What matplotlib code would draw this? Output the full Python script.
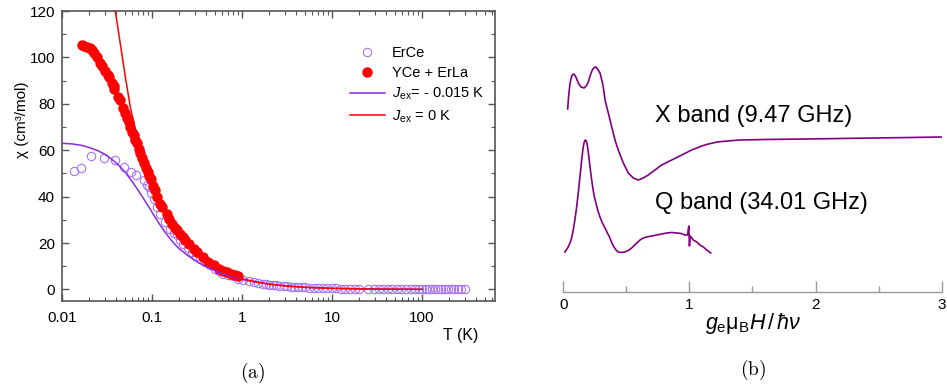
import matplotlib
matplotlib.use("Agg")
import matplotlib.pyplot as plt
from matplotlib.ticker import LogLocator, FixedLocator, FixedFormatter, MultipleLocator, NullFormatter

plt.rcParams['font.family'] = ['Liberation Sans', 'DejaVu Sans']
plt.rcParams['mathtext.fontset'] = 'custom'
plt.rcParams['mathtext.rm'] = 'Liberation Sans'
plt.rcParams['mathtext.it'] = 'Liberation Sans:italic'
plt.rcParams['mathtext.bf'] = 'Liberation Sans:bold'

# ---------------- (a) susceptibility vs temperature ----------------
erce_T = [0.0135, 0.0163, 0.021, 0.0295, 0.039, 0.0493, 0.0584, 0.0668, 0.0807, 0.0882,
          0.0916, 0.0973, 0.104, 0.113, 0.124, 0.14, 0.159, 0.175, 0.189, 0.205,
          0.224, 0.25, 0.278, 0.31, 0.344, 0.39, 0.445, 0.5, 0.55, 0.621,
          0.7, 0.8, 0.9, 1.04, 1.2, 1.35, 1.5, 1.7, 1.85, 2.0,
          2.2, 2.4, 2.6, 2.9, 3.2, 3.5, 3.8, 4.2, 4.6, 5.0,
          5.6, 6.3, 7.0, 7.9, 8.9, 10, 11.2, 12.6, 14, 16,
          18, 20, 25, 29, 33, 37, 42, 47, 53, 59,
          67, 75, 84, 94, 100, 110, 120, 130, 140, 150,
          165, 180, 195, 210, 230, 250, 270, 300]
erce_chi = [51.0, 52.4, 57.5, 56.5, 55.7, 52.8, 50.7, 49.2, 47.1, 45.2,
            44.2, 41.6, 39.0, 35.6, 32.7, 29.1, 26.2, 24.5, 23.3, 21.5,
            19.7, 17.8, 16.1, 14.6, 13.3, 11.8, 10.4, 9.0, 8.0, 6.8,
            6.2, 5.6, 4.6, 3.9, 3.5, 3.1, 2.8, 2.5, 2.3, 2.1,
            1.9, 1.8, 1.6, 1.5, 1.3, 1.2, 1.1, 1.0, 0.95, 0.9,
            0.8, 0.7, 0.62, 0.55, 0.5, 0.45, 0.4, 0.36, 0.32, 0.28,
            0.25, 0.22, 0.18, 0.15, 0.13, 0.12, 0.1, 0.09, 0.08, 0.07,
            0.06, 0.055, 0.05, 0.045, 0.04, 0.04, 0.035, 0.03, 0.03, 0.03,
            0.025, 0.025, 0.02, 0.02, 0.02, 0.02, 0.015, 0.015]

sum_T = [0.0167, 0.0177, 0.019, 0.0203, 0.0215, 0.0224, 0.0245, 0.0266, 0.0278, 0.03,
         0.0321, 0.033, 0.0355, 0.0375, 0.0381, 0.0415, 0.0437, 0.0476, 0.05, 0.0528,
         0.055, 0.0574, 0.06, 0.0625, 0.065, 0.0681, 0.071, 0.074, 0.078, 0.082,
         0.086, 0.0894, 0.093, 0.0974, 0.103, 0.1088, 0.115, 0.1236, 0.13, 0.1468,
         0.155, 0.1665, 0.18, 0.19, 0.2068, 0.22, 0.2339, 0.26, 0.2897, 0.32,
         0.3716, 0.42, 0.4838, 0.55, 0.62, 0.683, 0.75, 0.83, 0.9]
sum_chi = [105.4, 105.1, 104.7, 104.0, 103.0, 102.0, 100.0, 97.5, 96.3, 94.0,
           92.4, 91.4, 89.0, 87.7, 86.3, 83.1, 81.6, 78.1, 76.0, 73.7,
           72.0, 70.1, 68.0, 66.5, 64.5, 62.9, 60.5, 58.6, 56.5, 54.3,
           52.5, 50.7, 49.0, 47.4, 44.5, 42.8, 40.0, 37.0, 35.5, 32.7,
           30.5, 28.4, 26.5, 25.5, 24.1, 22.5, 21.2, 19.5, 17.6, 16.0,
           14.0, 12.0, 10.4, 9.0, 8.0, 7.5, 6.8, 6.0, 5.6]

fit_T = [0.01, 0.013, 0.016, 0.02, 0.025, 0.03, 0.035, 0.04, 0.045, 0.05,
         0.06, 0.07, 0.08, 0.09, 0.1, 0.12, 0.14, 0.16, 0.18, 0.2,
         0.25, 0.3, 0.35, 0.4, 0.5, 0.6, 0.7, 0.8, 1.0, 1.3,
         1.6, 2.0, 3.0, 5.0, 7.0, 10, 20, 50, 100]
fit_chi = [63.0, 62.7, 62.2, 61.2, 59.8, 58.2, 56.4, 54.5, 52.6, 50.6,
           46.6, 42.8, 39.3, 36.2, 33.3, 28.4, 24.6, 21.7, 19.4, 17.6,
           14.6, 12.5, 11.0, 9.8, 8.1, 6.9, 6.0, 5.3, 4.3, 3.4,
           2.8, 2.3, 1.5, 0.9, 0.65, 0.46, 0.23, 0.09, 0.046]

free_T = [0.0391, 0.0444, 0.0505, 0.0574, 0.0653, 0.074, 0.085, 0.1, 0.12, 0.15,
          0.2, 0.25, 0.3, 0.4, 0.5, 0.7, 1.0, 1.5, 2, 3,
          5, 10, 20, 50, 100]
free_chi = [120.0, 106.0, 91.7, 78.7, 68.7, 60.0, 52.5, 44.8, 37.5, 30.2,
            22.8, 18.3, 15.3, 11.5, 9.2, 6.6, 4.6, 3.1, 2.3, 1.55,
            0.93, 0.47, 0.23, 0.09, 0.047]

x_ticks = [0.01, 0.1, 1, 10, 100]
x_ticklabels = ['0.01', '0.1', '1', '10', '100']
y_ticks = [0, 20, 40, 60, 80, 100, 120]

# ---------------- (b) EPR spectra ----------------
xband_x = [0.035, 0.040, 0.045, 0.052, 0.059, 0.070, 0.085, 0.100, 0.119, 0.140,
           0.164, 0.182, 0.198, 0.215, 0.230, 0.245, 0.257, 0.272, 0.291, 0.305,
           0.317, 0.331, 0.357, 0.384, 0.410, 0.436, 0.476, 0.515, 0.555, 0.595,
           0.634, 0.674, 0.727, 0.780, 0.860, 0.939, 1.018, 1.098, 1.15, 1.22,
           1.30, 1.40, 1.60, 1.93, 2.20, 2.46, 2.75, 3.0]
xband_y = [18.3, 19.2, 19.9, 20.7, 21.2, 21.7, 21.8, 21.5, 20.9, 20.5,
           20.4, 20.6, 21.0, 21.7, 22.2, 22.45, 22.5, 22.3, 21.9, 21.2,
           20.5, 19.2, 17.9, 16.5, 15.2, 14.2, 12.9, 11.9, 11.4, 11.2,
           11.4, 11.7, 12.2, 12.7, 13.2, 13.7, 14.2, 14.6, 14.8, 15.0,
           15.1, 15.2, 15.25, 15.3, 15.35, 15.4, 15.45, 15.5]

qband_x = [0.013, 0.035, 0.053, 0.066, 0.079, 0.092, 0.106, 0.117, 0.127, 0.137,
           0.146, 0.155, 0.164, 0.171, 0.177, 0.185, 0.193, 0.202, 0.212, 0.222,
           0.233, 0.245, 0.259, 0.275, 0.291, 0.31, 0.331, 0.350, 0.370, 0.385,
           0.402, 0.418, 0.436, 0.46, 0.489, 0.515, 0.542, 0.575, 0.608, 0.635,
           0.661, 0.700, 0.741, 0.780, 0.820, 0.860, 0.899, 0.935, 0.965, 0.985,
           0.995, 1.0, 1.007, 1.031, 1.058, 1.084, 1.110, 1.137, 1.169]
qband_y = [4.0, 4.4, 4.9, 5.4, 6.2, 7.2, 8.5, 9.7, 10.9, 12.1,
           13.2, 14.2, 14.9, 15.15, 15.2, 15.0, 14.5, 13.6, 12.5, 11.5,
           10.5, 9.6, 8.9, 8.1, 7.5, 6.9, 6.4, 5.9, 5.4, 4.9,
           4.5, 4.2, 4.0, 3.95, 4.0, 4.15, 4.4, 4.8, 5.2, 5.4,
           5.5, 5.6, 5.7, 5.8, 5.9, 5.95, 5.9, 5.85, 5.7, 5.7,
           6.6, 4.6, 5.6, 5.2, 5.0, 4.7, 4.5, 4.2, 3.9]

fig = plt.figure(figsize=(9.47, 3.92), dpi=100)

spine_col = '#555555'
purple_pts = '#a874f2'
purple_line = '#8a2be2'
red = '#ff0000'

ax = fig.add_axes([0.0655, 0.2321, 0.4572, 0.7398])
ax.plot(erce_T, erce_chi, 'o', ms=6.0, mfc='none', mec=purple_pts, mew=0.8,
        label='ErCe', zorder=2)
ax.plot(sum_T, sum_chi, 'o', ms=6.5, color=red, mec=red, label='YCe + ErLa', zorder=3)
ax.plot(fit_T, fit_chi, '-', color=purple_line, lw=1.1,
        label=r'$J_{\rm ex}$= - 0.015 K', zorder=4)
ax.plot(free_T, free_chi, '-', color=red, lw=1.1,
        label=r'$J_{\rm ex}$ = 0 K', zorder=4)

ax.set_xscale('log')
ax.set_xlim(0.01, 650)
ax.set_ylim(-5, 120)
ax.xaxis.set_major_locator(FixedLocator(x_ticks))
ax.xaxis.set_major_formatter(FixedFormatter(x_ticklabels))
ax.xaxis.set_minor_locator(LogLocator(base=10, subs=[2, 3, 4, 5, 6, 7, 8, 9], numticks=20))
ax.xaxis.set_minor_formatter(NullFormatter())
ax.set_yticks(y_ticks)
ax.yaxis.set_minor_locator(MultipleLocator(10))
ax.tick_params(which='both', direction='in', top=True, right=True,
               color=spine_col, labelsize=11)
ax.tick_params(which='major', length=5, width=1.0)
ax.tick_params(which='minor', length=3, width=0.8)
ax.tick_params(axis='x', pad=7)
ax.tick_params(axis='y', pad=5)
for s in ax.spines.values():
    s.set_color(spine_col)
    s.set_linewidth(1.2)

leg = ax.legend(loc='upper left', bbox_to_anchor=(0.665, 0.878), frameon=False,
                fontsize=10.5, handlelength=2.4, handletextpad=0.5,
                labelspacing=0.4, borderpad=0, borderaxespad=0)

fig.text(0.0232, 0.695, 'χ (cm³/mol)', rotation=90, ha='center', va='center', fontsize=11)
fig.text(0.505, 0.145, 'T (K)', ha='right', va='center', fontsize=11.5)
fig.text(0.267, 0.048, r'$(\mathrm{a})$', ha='center', va='center', fontsize=14,
         math_fontfamily='cm')

# ---------------- (b) ----------------
epr_col = '#800080'
bx = fig.add_axes([0.5948, 0.2551, 0.3996, 0.7143])
bx.plot(xband_x, xband_y, '-', color=epr_col, lw=1.2)
bx.plot(qband_x, qband_y, '-', color=epr_col, lw=1.2)
bx.set_xlim(0, 3)
bx.set_ylim(0, 28)
for name in ('left', 'right', 'top'):
    bx.spines[name].set_visible(False)
bx.spines['bottom'].set_color('#999999')
bx.spines['bottom'].set_linewidth(1.0)
bx.set_yticks([])
bx.set_xticks([0, 1, 2, 3])
bx.xaxis.set_minor_locator(MultipleLocator(0.5))
bx.tick_params(axis='x', which='both', direction='in', color='#999999', labelsize=11, pad=4)
bx.tick_params(axis='x', which='major', length=8, width=1.0)
bx.tick_params(axis='x', which='minor', length=4, width=1.0)
bx.text(0.727, 17.6, 'X band (9.47 GHz)', fontsize=17, ha='left', va='center')
bx.text(0.727, 8.9, 'Q band (34.01 GHz)', fontsize=17, ha='left', va='center')

fig.text(0.7951, 0.176, r'$g_{\rm e}\mathrm{\mu}_{\rm B}H\,/\,\hbar\nu$', ha='center', va='center',
         fontsize=15.5)
fig.text(0.795, 0.056, r'$(\mathrm{b})$', ha='center', va='center', fontsize=14,
         math_fontfamily='cm')

fig.savefig('out.png', dpi=100)
